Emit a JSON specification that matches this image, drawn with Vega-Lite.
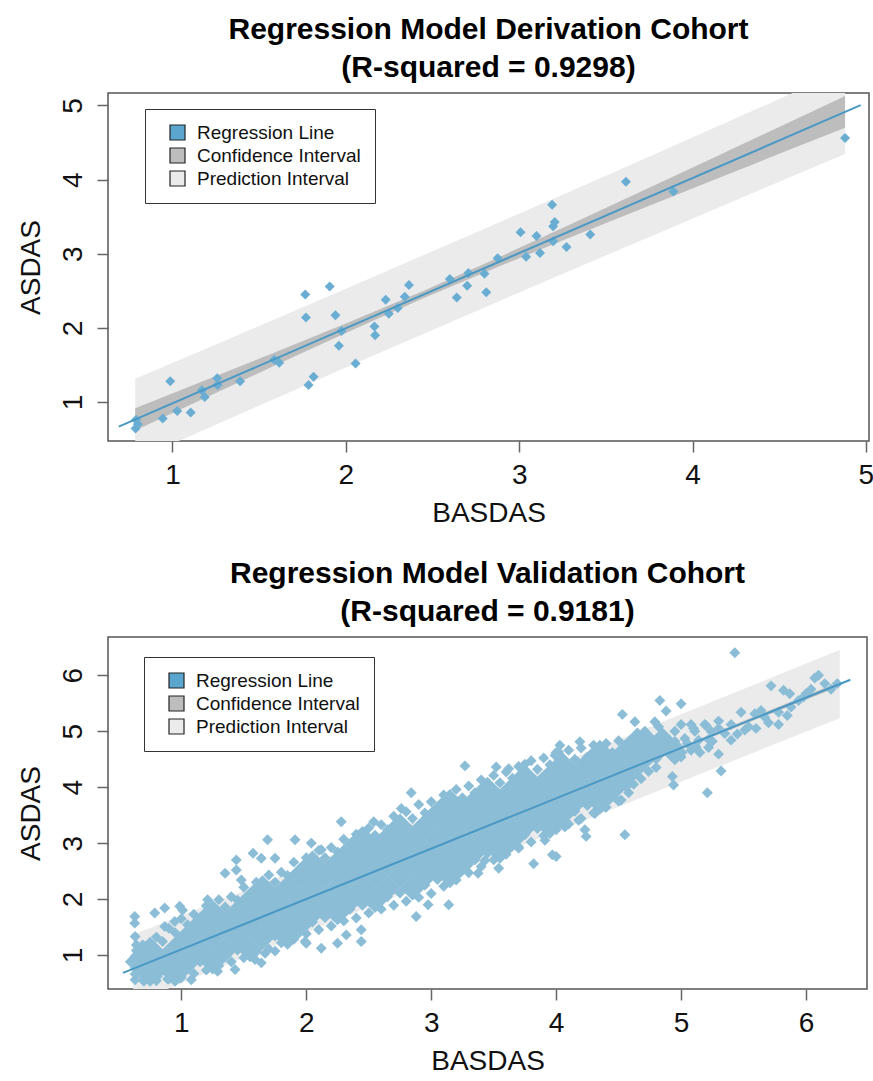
{
"$schema": "https://vega.github.io/schema/vega-lite/v6.json",
"background": "white",
"padding": {"left": 16, "top": 14, "right": 4, "bottom": 4},
"spacing": 30,
"config": {
 "font": "Liberation Sans",
 "view": {"stroke": "#555", "strokeWidth": 1.5},
 "axis": {"domain": false, "grid": false, "tickSize": 11, "tickWidth": 1.5, "tickColor": "#666", "labelFont": "Liberation Sans", "labelFontSize": 28, "labelColor": "#111", "titleFont": "Liberation Sans", "titleFontSize": 28, "titleFontWeight": "normal", "titleColor": "#111", "labelFlush": false, "labelOverlap": false},
 "axisX": {"labelPadding": 9, "titlePadding": 10},
 "axisY": {"labelAngle": -90, "labelAlign": "center", "labelBaseline": "alphabetic", "labelPadding": 16, "titlePadding": 14},
 "title": {"font": "Liberation Sans", "fontSize": 30, "fontWeight": "bold", "color": "#000", "lineHeight": 38, "offset": 10, "anchor": "middle", "frame": "group"},
 "legend": {"title": null, "symbolType": "square", "symbolSize": 225, "labelFont": "Liberation Sans", "labelFontSize": 19, "labelLimit": 400, "labelColor": "#111", "labelOffset": 10, "rowPadding": 2, "padding": 14, "symbolOffset": 9, "strokeColor": "#333", "fillColor": "white", "symbolStrokeColor": "#222", "symbolStrokeWidth": 1.2, "direction": "vertical", "orient": "none"}
},
"resolve": {"scale": {"fill": "independent", "x": "independent", "y": "independent"}, "legend": {"fill": "independent"}},
"datasets": {
 "deriv": [
  {"BASDAS":0.787,"ASDAS":0.645},{"BASDAS":0.79,"ASDAS":0.76},{"BASDAS":0.80,"ASDAS":0.70},{"BASDAS":0.944,"ASDAS":0.78},{"BASDAS":0.987,"ASDAS":1.28},{"BASDAS":1.027,"ASDAS":0.88},{"BASDAS":1.105,"ASDAS":0.86},{"BASDAS":1.17,"ASDAS":1.16},{"BASDAS":1.186,"ASDAS":1.07},{"BASDAS":1.258,"ASDAS":1.32},{"BASDAS":1.26,"ASDAS":1.23},{"BASDAS":1.39,"ASDAS":1.28},{"BASDAS":1.587,"ASDAS":1.57},{"BASDAS":1.616,"ASDAS":1.53},{"BASDAS":1.766,"ASDAS":2.45},{"BASDAS":1.77,"ASDAS":2.14},{"BASDAS":1.785,"ASDAS":1.23},{"BASDAS":1.814,"ASDAS":1.34},{"BASDAS":1.907,"ASDAS":2.56},{"BASDAS":1.94,"ASDAS":2.17},{"BASDAS":1.96,"ASDAS":1.76},{"BASDAS":1.975,"ASDAS":1.96},{"BASDAS":2.056,"ASDAS":1.52},{"BASDAS":2.165,"ASDAS":2.02},{"BASDAS":2.169,"ASDAS":1.90},{"BASDAS":2.23,"ASDAS":2.38},{"BASDAS":2.248,"ASDAS":2.19},{"BASDAS":2.30,"ASDAS":2.27},{"BASDAS":2.34,"ASDAS":2.42},{"BASDAS":2.364,"ASDAS":2.58},{"BASDAS":2.60,"ASDAS":2.66},{"BASDAS":2.64,"ASDAS":2.41},{"BASDAS":2.70,"ASDAS":2.57},{"BASDAS":2.707,"ASDAS":2.74},{"BASDAS":2.80,"ASDAS":2.73},{"BASDAS":2.81,"ASDAS":2.48},{"BASDAS":2.876,"ASDAS":2.94},{"BASDAS":3.008,"ASDAS":3.29},{"BASDAS":3.04,"ASDAS":2.96},{"BASDAS":3.10,"ASDAS":3.24},{"BASDAS":3.12,"ASDAS":3.01},{"BASDAS":3.19,"ASDAS":3.66},{"BASDAS":3.205,"ASDAS":3.43},{"BASDAS":3.196,"ASDAS":3.37},{"BASDAS":3.196,"ASDAS":3.17},{"BASDAS":3.273,"ASDAS":3.09},{"BASDAS":3.41,"ASDAS":3.26},{"BASDAS":3.616,"ASDAS":3.97},{"BASDAS":3.89,"ASDAS":3.84},{"BASDAS":4.88,"ASDAS":4.56}
 ],
 "band1": [
  {"BASDAS":0.785,"ci_lo":0.615,"ci_hi":0.915,"pi_lo":0.216,"pi_hi":1.314},
  {"BASDAS":1.2,"ci_lo":1.069,"ci_hi":1.303,"pi_lo":0.645,"pi_hi":1.727},
  {"BASDAS":1.6,"ci_lo":1.503,"ci_hi":1.679,"pi_lo":1.056,"pi_hi":2.126},
  {"BASDAS":2.0,"ci_lo":1.933,"ci_hi":2.059,"pi_lo":1.465,"pi_hi":2.527},
  {"BASDAS":2.45,"ci_lo":2.402,"ci_hi":2.502,"pi_lo":1.922,"pi_hi":2.982},
  {"BASDAS":2.9,"ci_lo":2.845,"ci_hi":2.971,"pi_lo":2.377,"pi_hi":3.439},
  {"BASDAS":3.3,"ci_lo":3.225,"ci_hi":3.401,"pi_lo":2.778,"pi_hi":3.848},
  {"BASDAS":3.7,"ci_lo":3.601,"ci_hi":3.835,"pi_lo":3.177,"pi_hi":4.259},
  {"BASDAS":4.1,"ci_lo":3.974,"ci_hi":4.272,"pi_lo":3.575,"pi_hi":4.671},
  {"BASDAS":4.5,"ci_lo":4.348,"ci_hi":4.710,"pi_lo":3.971,"pi_hi":5.087},
  {"BASDAS":4.88,"ci_lo":4.700,"ci_hi":5.126,"pi_lo":4.344,"pi_hi":5.482}
 ],
 "line1": [{"BASDAS":0.69,"ASDAS":0.669},{"BASDAS":4.97,"ASDAS":5.004}],
 "band2": [
  {"BASDAS":0.614,"ci_lo":0.713,"ci_hi":0.793,"pi_lo":0.143,"pi_hi":1.363},
  {"BASDAS":1.5,"ci_lo":1.525,"ci_hi":1.575,"pi_lo":0.95,"pi_hi":2.15},
  {"BASDAS":2.5,"ci_lo":2.435,"ci_hi":2.465,"pi_lo":1.855,"pi_hi":3.045},
  {"BASDAS":3.5,"ci_lo":3.335,"ci_hi":3.365,"pi_lo":2.755,"pi_hi":3.945},
  {"BASDAS":4.5,"ci_lo":4.23,"ci_hi":4.27,"pi_lo":3.65,"pi_hi":4.85},
  {"BASDAS":5.5,"ci_lo":5.12,"ci_hi":5.18,"pi_lo":4.545,"pi_hi":5.755},
  {"BASDAS":6.27,"ci_lo":5.803,"ci_hi":5.883,"pi_lo":5.233,"pi_hi":6.453}
 ],
 "line2": [{"BASDAS":0.533,"ASDAS":0.68},{"BASDAS":6.355,"ASDAS":5.92}],
 "core": [
  {"BASDAS":0.65,"ASDAS":0.88},
  {"BASDAS":0.75,"ASDAS":0.66},{"BASDAS":0.75,"ASDAS":1.10},
  {"BASDAS":0.85,"ASDAS":0.88},
  {"BASDAS":0.95,"ASDAS":0.66},{"BASDAS":0.95,"ASDAS":1.10},
  {"BASDAS":1.05,"ASDAS":0.88},{"BASDAS":1.05,"ASDAS":1.32},
  {"BASDAS":1.15,"ASDAS":1.10},{"BASDAS":1.15,"ASDAS":1.54},
  {"BASDAS":1.25,"ASDAS":0.88},{"BASDAS":1.25,"ASDAS":1.32},{"BASDAS":1.25,"ASDAS":1.76},
  {"BASDAS":1.35,"ASDAS":1.10},{"BASDAS":1.35,"ASDAS":1.54},
  {"BASDAS":1.45,"ASDAS":1.32},{"BASDAS":1.45,"ASDAS":1.76},
  {"BASDAS":1.55,"ASDAS":1.10},{"BASDAS":1.55,"ASDAS":1.54},{"BASDAS":1.55,"ASDAS":1.98},
  {"BASDAS":1.65,"ASDAS":1.32},{"BASDAS":1.65,"ASDAS":1.76},{"BASDAS":1.65,"ASDAS":2.20},
  {"BASDAS":1.75,"ASDAS":1.54},{"BASDAS":1.75,"ASDAS":1.98},
  {"BASDAS":1.85,"ASDAS":1.32},{"BASDAS":1.85,"ASDAS":1.76},{"BASDAS":1.85,"ASDAS":2.20},
  {"BASDAS":1.95,"ASDAS":1.54},{"BASDAS":1.95,"ASDAS":1.98},{"BASDAS":1.95,"ASDAS":2.42},
  {"BASDAS":2.05,"ASDAS":1.76},{"BASDAS":2.05,"ASDAS":2.20},{"BASDAS":2.05,"ASDAS":2.64},
  {"BASDAS":2.15,"ASDAS":1.98},{"BASDAS":2.15,"ASDAS":2.42},
  {"BASDAS":2.25,"ASDAS":1.76},{"BASDAS":2.25,"ASDAS":2.20},{"BASDAS":2.25,"ASDAS":2.64},
  {"BASDAS":2.35,"ASDAS":1.98},{"BASDAS":2.35,"ASDAS":2.42},{"BASDAS":2.35,"ASDAS":2.86},
  {"BASDAS":2.45,"ASDAS":2.20},{"BASDAS":2.45,"ASDAS":2.64},{"BASDAS":2.45,"ASDAS":3.08},
  {"BASDAS":2.55,"ASDAS":1.98},{"BASDAS":2.55,"ASDAS":2.42},{"BASDAS":2.55,"ASDAS":2.86},
  {"BASDAS":2.65,"ASDAS":2.20},{"BASDAS":2.65,"ASDAS":2.64},{"BASDAS":2.65,"ASDAS":3.08},
  {"BASDAS":2.75,"ASDAS":2.42},{"BASDAS":2.75,"ASDAS":2.86},{"BASDAS":2.75,"ASDAS":3.30},
  {"BASDAS":2.85,"ASDAS":2.20},{"BASDAS":2.85,"ASDAS":2.64},{"BASDAS":2.85,"ASDAS":3.08},
  {"BASDAS":2.95,"ASDAS":2.42},{"BASDAS":2.95,"ASDAS":2.86},{"BASDAS":2.95,"ASDAS":3.30},
  {"BASDAS":3.05,"ASDAS":2.64},{"BASDAS":3.05,"ASDAS":3.08},{"BASDAS":3.05,"ASDAS":3.52},
  {"BASDAS":3.15,"ASDAS":2.42},{"BASDAS":3.15,"ASDAS":2.86},{"BASDAS":3.15,"ASDAS":3.30},{"BASDAS":3.15,"ASDAS":3.74},
  {"BASDAS":3.25,"ASDAS":2.64},{"BASDAS":3.25,"ASDAS":3.08},{"BASDAS":3.25,"ASDAS":3.52},
  {"BASDAS":3.35,"ASDAS":2.86},{"BASDAS":3.35,"ASDAS":3.30},{"BASDAS":3.35,"ASDAS":3.74},
  {"BASDAS":3.45,"ASDAS":3.08},{"BASDAS":3.45,"ASDAS":3.52},{"BASDAS":3.45,"ASDAS":3.96},
  {"BASDAS":3.55,"ASDAS":2.86},{"BASDAS":3.55,"ASDAS":3.30},{"BASDAS":3.55,"ASDAS":3.74},
  {"BASDAS":3.65,"ASDAS":3.08},{"BASDAS":3.65,"ASDAS":3.52},{"BASDAS":3.65,"ASDAS":3.96},
  {"BASDAS":3.75,"ASDAS":3.30},{"BASDAS":3.75,"ASDAS":3.74},{"BASDAS":3.75,"ASDAS":4.18},
  {"BASDAS":3.85,"ASDAS":3.52},{"BASDAS":3.85,"ASDAS":3.96},
  {"BASDAS":3.95,"ASDAS":3.30},{"BASDAS":3.95,"ASDAS":3.74},{"BASDAS":3.95,"ASDAS":4.18},
  {"BASDAS":4.05,"ASDAS":3.52},{"BASDAS":4.05,"ASDAS":3.96},{"BASDAS":4.05,"ASDAS":4.40},
  {"BASDAS":4.15,"ASDAS":3.74},{"BASDAS":4.15,"ASDAS":4.18},
  {"BASDAS":4.25,"ASDAS":3.96},{"BASDAS":4.25,"ASDAS":4.40},
  {"BASDAS":4.35,"ASDAS":3.74},{"BASDAS":4.35,"ASDAS":4.18},{"BASDAS":4.35,"ASDAS":4.62},
  {"BASDAS":4.45,"ASDAS":3.96},{"BASDAS":4.45,"ASDAS":4.40},
  {"BASDAS":4.55,"ASDAS":4.18},{"BASDAS":4.55,"ASDAS":4.62},
  {"BASDAS":4.65,"ASDAS":4.40},{"BASDAS":4.65,"ASDAS":4.84},
  {"BASDAS":4.75,"ASDAS":4.62},
  {"BASDAS":4.85,"ASDAS":4.84},
  {"BASDAS":4.95,"ASDAS":4.62}
 ],
 "valid": [
  {"BASDAS":0.63,"ASDAS":0.56},{"BASDAS":0.63,"ASDAS":0.66},{"BASDAS":0.63,"ASDAS":0.77},{"BASDAS":0.64,"ASDAS":0.88},{"BASDAS":0.63,"ASDAS":0.98},{"BASDAS":0.64,"ASDAS":1.08},{"BASDAS":0.64,"ASDAS":1.18},{"BASDAS":0.63,"ASDAS":1.33},{"BASDAS":0.627,"ASDAS":1.57},{"BASDAS":0.627,"ASDAS":1.69},{"BASDAS":0.69,"ASDAS":1.18},{"BASDAS":0.66,"ASDAS":0.70},{"BASDAS":0.70,"ASDAS":0.60},
  {"BASDAS":0.787,"ASDAS":1.75},{"BASDAS":0.867,"ASDAS":1.84},{"BASDAS":0.987,"ASDAS":1.87},{"BASDAS":1.01,"ASDAS":1.80},{"BASDAS":0.867,"ASDAS":1.51},{"BASDAS":0.947,"ASDAS":1.60},{"BASDAS":1.21,"ASDAS":1.99},{"BASDAS":1.35,"ASDAS":2.46},{"BASDAS":1.44,"ASDAS":2.70},{"BASDAS":1.44,"ASDAS":2.52},{"BASDAS":1.48,"ASDAS":2.34},{"BASDAS":1.574,"ASDAS":2.82},{"BASDAS":1.64,"ASDAS":2.73},{"BASDAS":1.69,"ASDAS":3.06},{"BASDAS":1.75,"ASDAS":2.73},{"BASDAS":1.91,"ASDAS":3.06},{"BASDAS":2.04,"ASDAS":3.0},{"BASDAS":2.28,"ASDAS":3.38},{"BASDAS":2.12,"ASDAS":2.88},{"BASDAS":2.54,"ASDAS":3.38},{"BASDAS":2.76,"ASDAS":3.62},{"BASDAS":2.84,"ASDAS":3.90},{"BASDAS":3.27,"ASDAS":4.38},
  {"BASDAS":1.43,"ASDAS":0.74},{"BASDAS":1.59,"ASDAS":0.92},{"BASDAS":1.64,"ASDAS":0.86},{"BASDAS":1.75,"ASDAS":1.07},{"BASDAS":2.0,"ASDAS":1.21},{"BASDAS":2.12,"ASDAS":1.12},{"BASDAS":2.25,"ASDAS":1.21},{"BASDAS":2.32,"ASDAS":1.36},{"BASDAS":1.56,"ASDAS":1.09},{"BASDAS":1.67,"ASDAS":1.03},{"BASDAS":1.29,"ASDAS":0.71},{"BASDAS":1.08,"ASDAS":0.56},{"BASDAS":0.81,"ASDAS":0.62},{"BASDAS":0.89,"ASDAS":0.57},{"BASDAS":0.99,"ASDAS":0.59},{"BASDAS":0.73,"ASDAS":0.59},{"BASDAS":2.975,"ASDAS":1.90},{"BASDAS":3.14,"ASDAS":1.90},{"BASDAS":2.88,"ASDAS":1.69},{"BASDAS":2.44,"ASDAS":1.45},{"BASDAS":2.44,"ASDAS":1.24},{"BASDAS":1.99,"ASDAS":1.24},
  {"BASDAS":5.43,"ASDAS":6.40},{"BASDAS":4.53,"ASDAS":5.30},{"BASDAS":4.63,"ASDAS":5.17},{"BASDAS":4.83,"ASDAS":5.55},{"BASDAS":5.00,"ASDAS":5.49},{"BASDAS":4.88,"ASDAS":5.36},{"BASDAS":4.71,"ASDAS":5.0},{"BASDAS":4.79,"ASDAS":5.17},{"BASDAS":4.82,"ASDAS":5.08},{"BASDAS":5.72,"ASDAS":5.81},{"BASDAS":5.82,"ASDAS":5.73},{"BASDAS":5.87,"ASDAS":5.67},{"BASDAS":6.10,"ASDAS":6.0},{"BASDAS":6.07,"ASDAS":5.95},{"BASDAS":6.04,"ASDAS":5.75},{"BASDAS":6.00,"ASDAS":5.67},{"BASDAS":5.98,"ASDAS":5.61},{"BASDAS":5.48,"ASDAS":5.34},{"BASDAS":5.59,"ASDAS":5.31},{"BASDAS":5.64,"ASDAS":5.37},{"BASDAS":5.78,"ASDAS":5.12},{"BASDAS":5.54,"ASDAS":5.08},{"BASDAS":5.40,"ASDAS":5.12},{"BASDAS":5.30,"ASDAS":5.18},{"BASDAS":5.19,"ASDAS":5.12},{"BASDAS":5.08,"ASDAS":5.12},{"BASDAS":5.0,"ASDAS":5.12},{"BASDAS":5.03,"ASDAS":4.87},{"BASDAS":4.95,"ASDAS":4.82},{"BASDAS":5.11,"ASDAS":5.0},{"BASDAS":5.24,"ASDAS":5.0},{"BASDAS":5.22,"ASDAS":4.71},{"BASDAS":5.30,"ASDAS":4.59},{"BASDAS":5.32,"ASDAS":4.29},{"BASDAS":5.21,"ASDAS":3.90},{"BASDAS":4.93,"ASDAS":4.19},{"BASDAS":4.94,"ASDAS":4.04},{"BASDAS":4.55,"ASDAS":3.15},{"BASDAS":4.24,"ASDAS":3.12},{"BASDAS":4.23,"ASDAS":3.24},{"BASDAS":4.0,"ASDAS":2.76},{"BASDAS":3.97,"ASDAS":2.79},{"BASDAS":3.82,"ASDAS":2.63},{"BASDAS":3.54,"ASDAS":2.55},{"BASDAS":3.375,"ASDAS":2.46},{"BASDAS":3.52,"ASDAS":4.36},{"BASDAS":3.62,"ASDAS":4.33},{"BASDAS":3.75,"ASDAS":4.41},{"BASDAS":3.72,"ASDAS":4.15},{"BASDAS":4.03,"ASDAS":4.75},{"BASDAS":4.19,"ASDAS":4.81},{"BASDAS":4.02,"ASDAS":4.63},{"BASDAS":3.99,"ASDAS":4.57},
  {"BASDAS":4.60,"ASDAS":4.66},{"BASDAS":4.76,"ASDAS":4.72},{"BASDAS":4.87,"ASDAS":4.84},{"BASDAS":4.98,"ASDAS":4.72},{"BASDAS":5.08,"ASDAS":4.66},{"BASDAS":4.66,"ASDAS":4.84},{"BASDAS":4.84,"ASDAS":4.60},{"BASDAS":5.00,"ASDAS":4.54},{"BASDAS":5.14,"ASDAS":4.84},{"BASDAS":5.35,"ASDAS":4.96},{"BASDAS":5.40,"ASDAS":4.84},{"BASDAS":5.51,"ASDAS":5.02},{"BASDAS":5.67,"ASDAS":5.25},{"BASDAS":5.78,"ASDAS":5.34},{"BASDAS":5.88,"ASDAS":5.43},{"BASDAS":5.94,"ASDAS":5.55},{"BASDAS":6.15,"ASDAS":5.85},
  {"BASDAS":4.52,"ASDAS":3.77},{"BASDAS":4.39,"ASDAS":3.65},{"BASDAS":4.31,"ASDAS":3.53},{"BASDAS":4.18,"ASDAS":3.41},{"BASDAS":4.07,"ASDAS":3.29},{"BASDAS":3.91,"ASDAS":3.05},{"BASDAS":3.70,"ASDAS":2.93},{"BASDAS":3.54,"ASDAS":2.75},{"BASDAS":3.43,"ASDAS":2.69},
  {"BASDAS":4.58,"ASDAS":3.90},{"BASDAS":4.62,"ASDAS":4.05},{"BASDAS":4.68,"ASDAS":4.15},{"BASDAS":4.74,"ASDAS":4.28},{"BASDAS":4.80,"ASDAS":4.35},{"BASDAS":4.56,"ASDAS":4.00},
  {"BASDAS":4.60,"ASDAS":4.35},{"BASDAS":4.70,"ASDAS":4.45},{"BASDAS":4.80,"ASDAS":4.50},{"BASDAS":4.90,"ASDAS":4.62},{"BASDAS":5.05,"ASDAS":4.78},{"BASDAS":5.15,"ASDAS":4.62},{"BASDAS":5.25,"ASDAS":4.82},{"BASDAS":5.45,"ASDAS":4.95},{"BASDAS":5.60,"ASDAS":5.05},{"BASDAS":5.70,"ASDAS":5.15},{"BASDAS":5.85,"ASDAS":5.28},{"BASDAS":6.20,"ASDAS":5.75},{"BASDAS":6.25,"ASDAS":5.85},
  {"BASDAS":4.65,"ASDAS":4.95},{"BASDAS":4.75,"ASDAS":4.90},{"BASDAS":4.85,"ASDAS":4.95},{"BASDAS":4.95,"ASDAS":5.0},{"BASDAS":5.10,"ASDAS":5.05},{"BASDAS":5.20,"ASDAS":5.10},{"BASDAS":5.30,"ASDAS":5.05},{"BASDAS":4.68,"ASDAS":4.60},{"BASDAS":4.88,"ASDAS":4.65},{"BASDAS":5.12,"ASDAS":4.72},{"BASDAS":5.22,"ASDAS":4.85},
  {"BASDAS":0.70,"ASDAS":1.16},{"BASDAS":0.80,"ASDAS":1.32},{"BASDAS":0.90,"ASDAS":1.48},{"BASDAS":1.00,"ASDAS":1.65},{"BASDAS":1.10,"ASDAS":1.73},{"BASDAS":1.20,"ASDAS":1.88},{"BASDAS":1.30,"ASDAS":1.99},{"BASDAS":1.40,"ASDAS":2.04},{"BASDAS":1.50,"ASDAS":2.21},{"BASDAS":1.60,"ASDAS":2.30},{"BASDAS":1.70,"ASDAS":2.43},{"BASDAS":1.80,"ASDAS":2.48},{"BASDAS":1.90,"ASDAS":2.66},{"BASDAS":2.00,"ASDAS":2.74},{"BASDAS":2.10,"ASDAS":2.87},{"BASDAS":2.20,"ASDAS":2.92},{"BASDAS":2.30,"ASDAS":3.07},{"BASDAS":2.40,"ASDAS":3.16},{"BASDAS":2.50,"ASDAS":3.27},{"BASDAS":2.60,"ASDAS":3.33},{"BASDAS":2.70,"ASDAS":3.48},{"BASDAS":2.80,"ASDAS":3.56},{"BASDAS":2.90,"ASDAS":3.69},{"BASDAS":3.00,"ASDAS":3.74},{"BASDAS":3.10,"ASDAS":3.86},{"BASDAS":3.20,"ASDAS":3.96},{"BASDAS":3.30,"ASDAS":4.02},{"BASDAS":3.40,"ASDAS":4.13},{"BASDAS":3.50,"ASDAS":4.21},{"BASDAS":3.60,"ASDAS":4.27},{"BASDAS":3.70,"ASDAS":4.37},{"BASDAS":3.80,"ASDAS":4.47},{"BASDAS":3.90,"ASDAS":4.52},{"BASDAS":4.00,"ASDAS":4.62},{"BASDAS":4.10,"ASDAS":4.66},{"BASDAS":4.20,"ASDAS":4.70},{"BASDAS":4.30,"ASDAS":4.75},{"BASDAS":4.40,"ASDAS":4.78},{"BASDAS":4.50,"ASDAS":4.83},
  {"BASDAS":0.75,"ASDAS":1.08},{"BASDAS":0.85,"ASDAS":1.24},{"BASDAS":0.95,"ASDAS":1.40},{"BASDAS":1.05,"ASDAS":1.54},{"BASDAS":1.15,"ASDAS":1.64},{"BASDAS":1.25,"ASDAS":1.78},{"BASDAS":1.35,"ASDAS":1.86},{"BASDAS":1.45,"ASDAS":1.98},{"BASDAS":1.55,"ASDAS":2.08},{"BASDAS":1.65,"ASDAS":2.20},{"BASDAS":1.75,"ASDAS":2.30},{"BASDAS":1.85,"ASDAS":2.42},{"BASDAS":1.95,"ASDAS":2.52},{"BASDAS":2.05,"ASDAS":2.64},{"BASDAS":2.15,"ASDAS":2.74},{"BASDAS":2.25,"ASDAS":2.84},{"BASDAS":2.35,"ASDAS":2.94},{"BASDAS":2.45,"ASDAS":3.04},{"BASDAS":2.55,"ASDAS":3.14},{"BASDAS":2.65,"ASDAS":3.24},{"BASDAS":2.75,"ASDAS":3.34},{"BASDAS":2.85,"ASDAS":3.44},{"BASDAS":2.95,"ASDAS":3.54},{"BASDAS":3.05,"ASDAS":3.63},{"BASDAS":3.15,"ASDAS":3.72},{"BASDAS":3.25,"ASDAS":3.81},{"BASDAS":3.35,"ASDAS":3.90},{"BASDAS":3.45,"ASDAS":3.99},{"BASDAS":3.55,"ASDAS":4.08},{"BASDAS":3.65,"ASDAS":4.16},{"BASDAS":3.75,"ASDAS":4.24},{"BASDAS":3.85,"ASDAS":4.32},{"BASDAS":3.95,"ASDAS":4.40},{"BASDAS":4.05,"ASDAS":4.46},{"BASDAS":4.15,"ASDAS":4.50},{"BASDAS":4.25,"ASDAS":4.54},{"BASDAS":4.35,"ASDAS":4.58},{"BASDAS":4.45,"ASDAS":4.62},
  {"BASDAS":0.70,"ASDAS":0.53},{"BASDAS":0.80,"ASDAS":0.54},{"BASDAS":0.90,"ASDAS":0.57},{"BASDAS":1.00,"ASDAS":0.60},{"BASDAS":1.10,"ASDAS":0.67},{"BASDAS":1.20,"ASDAS":0.73},{"BASDAS":1.30,"ASDAS":0.81},{"BASDAS":1.40,"ASDAS":0.88},{"BASDAS":1.50,"ASDAS":0.95},{"BASDAS":1.60,"ASDAS":1.06},{"BASDAS":1.70,"ASDAS":1.11},{"BASDAS":1.80,"ASDAS":1.22},{"BASDAS":1.90,"ASDAS":1.28},{"BASDAS":2.00,"ASDAS":1.38},{"BASDAS":2.10,"ASDAS":1.45},{"BASDAS":2.20,"ASDAS":1.52},{"BASDAS":2.30,"ASDAS":1.61},{"BASDAS":2.40,"ASDAS":1.66},{"BASDAS":2.50,"ASDAS":1.75},{"BASDAS":2.60,"ASDAS":1.82},{"BASDAS":2.70,"ASDAS":1.89},{"BASDAS":2.80,"ASDAS":1.96},{"BASDAS":2.90,"ASDAS":2.03},{"BASDAS":3.00,"ASDAS":2.10},{"BASDAS":3.10,"ASDAS":2.23},{"BASDAS":3.20,"ASDAS":2.34},{"BASDAS":3.30,"ASDAS":2.47},{"BASDAS":3.40,"ASDAS":2.58},{"BASDAS":3.50,"ASDAS":2.70},{"BASDAS":3.60,"ASDAS":2.80},{"BASDAS":3.70,"ASDAS":2.91},{"BASDAS":3.80,"ASDAS":3.02},{"BASDAS":3.90,"ASDAS":3.13},{"BASDAS":4.00,"ASDAS":3.24},{"BASDAS":4.10,"ASDAS":3.34},{"BASDAS":4.20,"ASDAS":3.44},{"BASDAS":4.30,"ASDAS":3.54},{"BASDAS":4.40,"ASDAS":3.64},{"BASDAS":4.50,"ASDAS":3.75},
  {"BASDAS":0.75,"ASDAS":0.69},{"BASDAS":0.85,"ASDAS":0.73},{"BASDAS":0.95,"ASDAS":0.76},{"BASDAS":1.05,"ASDAS":0.81},{"BASDAS":1.15,"ASDAS":0.88},{"BASDAS":1.25,"ASDAS":0.95},{"BASDAS":1.35,"ASDAS":1.02},{"BASDAS":1.45,"ASDAS":1.09},{"BASDAS":1.55,"ASDAS":1.17},{"BASDAS":1.65,"ASDAS":1.26},{"BASDAS":1.75,"ASDAS":1.34},{"BASDAS":1.85,"ASDAS":1.43},{"BASDAS":1.95,"ASDAS":1.51},{"BASDAS":2.05,"ASDAS":1.59},{"BASDAS":2.15,"ASDAS":1.67},{"BASDAS":2.25,"ASDAS":1.74},{"BASDAS":2.35,"ASDAS":1.82},{"BASDAS":2.45,"ASDAS":1.89},{"BASDAS":2.55,"ASDAS":1.96},{"BASDAS":2.65,"ASDAS":2.04},{"BASDAS":2.75,"ASDAS":2.11},{"BASDAS":2.85,"ASDAS":2.18},{"BASDAS":2.95,"ASDAS":2.25},{"BASDAS":3.05,"ASDAS":2.35},{"BASDAS":3.15,"ASDAS":2.46},{"BASDAS":3.25,"ASDAS":2.58},{"BASDAS":3.35,"ASDAS":2.70},{"BASDAS":3.45,"ASDAS":2.82},{"BASDAS":3.55,"ASDAS":2.93},{"BASDAS":3.65,"ASDAS":3.04},{"BASDAS":3.75,"ASDAS":3.15},{"BASDAS":3.85,"ASDAS":3.26},{"BASDAS":3.95,"ASDAS":3.37},{"BASDAS":4.05,"ASDAS":3.47},{"BASDAS":4.15,"ASDAS":3.57},{"BASDAS":4.25,"ASDAS":3.67},{"BASDAS":4.35,"ASDAS":3.77},{"BASDAS":4.45,"ASDAS":3.87}
 ]
},
"vconcat": [
 {
  "width": 761, "height": 348,
  "title": {"text": ["Regression Model Derivation Cohort", "(R-squared = 0.9298)"]},
  "encoding": {"x": {"field": "BASDAS", "type": "quantitative", "scale": {"domain": [0.628, 5.018], "nice": false, "zero": false}, "axis": {"values": [1,2,3,4,5], "title": "BASDAS"}}},
  "layer": [
   {"data": {"name": "band1"}, "mark": {"type": "area", "clip": true, "opacity": 1},
    "encoding": {"y": {"field": "pi_lo", "type": "quantitative", "scale": {"domain": [0.475, 5.168], "nice": false, "zero": false}, "axis": {"values": [1,2,3,4,5], "title": "ASDAS"}}, "y2": {"field": "pi_hi"},
     "fill": {"datum": "Prediction Interval", "type": "nominal", "scale": {"domain": ["Regression Line", "Confidence Interval", "Prediction Interval"], "range": ["#5aa6cf", "#bdbdbd", "#ebebeb"]}, "legend": {"orient": "none", "legendX": 37, "legendY": 16}}}},
   {"data": {"name": "band1"}, "mark": {"type": "area", "clip": true, "opacity": 1},
    "encoding": {"y": {"field": "ci_lo", "type": "quantitative", "scale": {"domain": [0.475, 5.168], "nice": false, "zero": false}, "axis": {"values": [1,2,3,4,5], "title": "ASDAS"}}, "y2": {"field": "ci_hi"}, "fill": {"datum": "Confidence Interval", "type": "nominal"}}},
   {"data": {"name": "deriv"}, "mark": {"type": "point", "shape": "diamond", "filled": true, "size": 100, "color": "#6aadd3", "opacity": 1, "clip": true},
    "encoding": {"y": {"field": "ASDAS", "type": "quantitative", "scale": {"domain": [0.475, 5.168], "nice": false, "zero": false}, "axis": {"values": [1,2,3,4,5], "title": "ASDAS"}}}},
   {"data": {"name": "line1"}, "mark": {"type": "line", "color": "#4a98c4", "strokeWidth": 2, "clip": true},
    "encoding": {"y": {"field": "ASDAS", "type": "quantitative", "scale": {"domain": [0.475, 5.168], "nice": false, "zero": false}, "axis": {"values": [1,2,3,4,5], "title": "ASDAS"}}}}
  ]
 },
 {
  "width": 759, "height": 352,
  "title": {"text": ["Regression Model Validation Cohort", "(R-squared = 0.9181)"]},
  "encoding": {"x": {"field": "BASDAS", "type": "quantitative", "scale": {"domain": [0.413, 6.488], "nice": false, "zero": false}, "axis": {"values": [1,2,3,4,5,6], "title": "BASDAS"}}},
  "layer": [
   {"data": {"name": "band2"}, "mark": {"type": "area", "clip": true, "opacity": 1},
    "encoding": {"y": {"field": "pi_lo", "type": "quantitative", "scale": {"domain": [0.393, 6.683], "nice": false, "zero": false}, "axis": {"values": [1,2,3,4,5,6], "title": "ASDAS"}}, "y2": {"field": "pi_hi"},
     "fill": {"datum": "Prediction Interval", "type": "nominal", "scale": {"domain": ["Regression Line", "Confidence Interval", "Prediction Interval"], "range": ["#5aa6cf", "#bdbdbd", "#ebebeb"]}, "legend": {"orient": "none", "legendX": 36, "legendY": 20}}}},
   {"data": {"name": "band2"}, "mark": {"type": "area", "clip": true, "opacity": 1},
    "encoding": {"y": {"field": "ci_lo", "type": "quantitative", "scale": {"domain": [0.393, 6.683], "nice": false, "zero": false}, "axis": {"values": [1,2,3,4,5,6], "title": "ASDAS"}}, "y2": {"field": "ci_hi"}, "fill": {"datum": "Confidence Interval", "type": "nominal"}}},
   {"data": {"name": "core"}, "mark": {"type": "point", "shape": "diamond", "filled": true, "size": 650, "color": "#8bbdd7", "opacity": 1, "clip": true},
    "encoding": {"y": {"field": "ASDAS", "type": "quantitative", "scale": {"domain": [0.393, 6.683], "nice": false, "zero": false}, "axis": {"values": [1,2,3,4,5,6], "title": "ASDAS"}}}},
   {"data": {"name": "valid"}, "mark": {"type": "point", "shape": "diamond", "filled": true, "size": 120, "color": "#8bbdd7", "opacity": 1, "clip": true},
    "encoding": {"y": {"field": "ASDAS", "type": "quantitative", "scale": {"domain": [0.393, 6.683], "nice": false, "zero": false}, "axis": {"values": [1,2,3,4,5,6], "title": "ASDAS"}}}},
   {"data": {"name": "line2"}, "mark": {"type": "line", "color": "#4a98c4", "strokeWidth": 2, "clip": true},
    "encoding": {"y": {"field": "ASDAS", "type": "quantitative", "scale": {"domain": [0.393, 6.683], "nice": false, "zero": false}, "axis": {"values": [1,2,3,4,5,6], "title": "ASDAS"}}}}
  ]
 }
]
}
